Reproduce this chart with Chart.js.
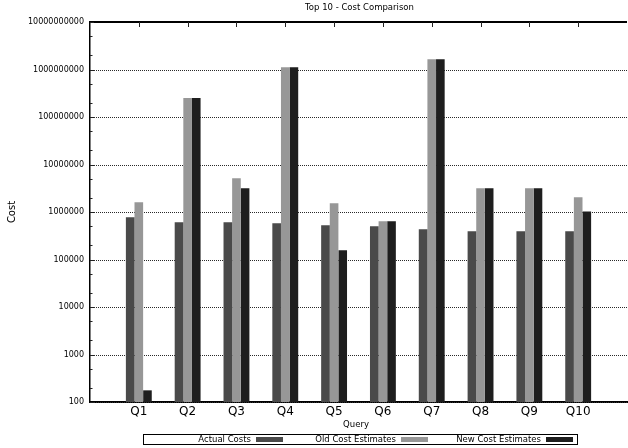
<!DOCTYPE html>
<html>
<head>
<meta charset="utf-8">
<script src="https://cdn.jsdelivr.net/npm/chart.js@4/dist/chart.umd.min.js"></script>
<style>
html,body{margin:0;padding:0;overflow:hidden;background:#fff;}
#wrap{width:630px;height:448px;}
</style>
</head>
<body>
<div id="wrap"><canvas id="c" width="630" height="448"></canvas></div>
<script>
const chartTitle = 'Top 10 - Cost Comparison';
const xTitle = 'Query';
const yTitle = 'Cost';
const categories = ['Q1','Q2','Q3','Q4','Q5','Q6','Q7','Q8','Q9','Q10'];
const actualCosts = [775000, 610000, 610000, 580000, 525000, 500000, 433000, 393000, 393000, 393000];
const oldCostEstimates = [1600000, 250000000, 5150000, 1120000000, 1520000, 640000, 1650000000, 3150000, 3150000, 2040000];
const newCostEstimates = [176, 250000000, 3180000, 1120000000, 157000, 640000, 1650000000, 3150000, 3150000, 1030000];
const seriesNames = ['Actual Costs', 'Old Cost Estimates', 'New Cost Estimates'];
const seriesColors = ['#4a4a4a', '#979797', '#1e1e1e'];
const yTicks = [100, 1000, 10000, 100000, 1000000, 10000000, 100000000, 1000000000, 10000000000];
const yMinorSteps = [2, 5];

const labels = [''].concat(categories, ['']);
const pad = arr => [null].concat(arr, [null]);
const seriesValues = [actualCosts, oldCostEstimates, newCostEstimates];

const FONT = '"DejaVu Sans", sans-serif';

const gridPlugin = {
  id: 'dottedGrid',
  beforeDatasetsDraw(chart) {
    const {ctx, chartArea: a, scales: {y}} = chart;
    ctx.save();
    ctx.strokeStyle = '#2a2a2a';
    ctx.lineWidth = 1;
    ctx.setLineDash([1, 1]);
    yTicks.forEach(v => {
      const py = Math.round(y.getPixelForValue(v)) + 0.5;
      ctx.beginPath();
      ctx.moveTo(a.left, py);
      ctx.lineTo(a.right, py);
      ctx.stroke();
    });
    ctx.restore();
  }
};

const decor = {
  id: 'decor',
  afterDraw(chart) {
    const {ctx, chartArea: a, scales: {x, y}} = chart;
    ctx.save();
    // top border
    ctx.strokeStyle = '#000';
    ctx.lineWidth = 2;
    ctx.beginPath();
    ctx.moveTo(a.left, a.top);
    ctx.lineTo(a.right, a.top);
    ctx.stroke();
    // top category ticks
    ctx.lineWidth = 1;
    ctx.strokeStyle = '#222';
    categories.forEach((c, i) => {
      const px = Math.round(x.getPixelForValue(i + 1)) + 0.5;
      ctx.beginPath();
      ctx.moveTo(px, a.top);
      ctx.lineTo(px, a.top + 5);
      ctx.stroke();
    });
    // y ticks (major & minor) inside the axis
    yTicks.forEach((v, i) => {
      const py = Math.round(y.getPixelForValue(v)) + 0.5;
      ctx.beginPath();
      ctx.moveTo(a.left, py);
      ctx.lineTo(a.left + 4, py);
      ctx.stroke();
      if (i < yTicks.length - 1) {
        yMinorSteps.forEach(m => {
          const pm = Math.round(y.getPixelForValue(v * m)) + 0.5;
          ctx.beginPath();
          ctx.moveTo(a.left, pm);
          ctx.lineTo(a.left + 2.5, pm);
          ctx.stroke();
        });
      }
    });
    // texts
    ctx.fillStyle = '#000';
    ctx.font = '8.5px ' + FONT;
    ctx.textAlign = 'center';
    ctx.textBaseline = 'middle';
    ctx.fillText(chartTitle, (a.left + a.right) / 2 + 1, 8);
    ctx.fillText(xTitle, 356, 425);
    ctx.save();
    ctx.font = '10px ' + FONT;
    ctx.translate(12, (a.top + a.bottom) / 2);
    ctx.rotate(-Math.PI / 2);
    ctx.fillText(yTitle, 0, 0);
    ctx.restore();
    // legend
    ctx.lineWidth = 1;
    ctx.strokeStyle = '#000';
    ctx.strokeRect(143.5, 434.5, 434, 10);
    ctx.textAlign = 'right';
    seriesNames.forEach((n, i) => {
      const off = 145 * i;
      ctx.fillStyle = '#000';
      ctx.fillText(n, 251 + off, 440);
      ctx.fillStyle = seriesColors[i];
      ctx.fillRect(256 + off, 437, 27, 5);
    });
    ctx.restore();
  }
};

new Chart(document.getElementById('c'), {
  type: 'bar',
  data: {
    labels: labels,
    datasets: seriesNames.map((n, i) => ({
      label: n,
      data: pad(seriesValues[i]),
      backgroundColor: seriesColors[i],
      borderWidth: 0,
      categoryPercentage: 0.53,
      barPercentage: 1.0
    }))
  },
  options: {
    responsive: false,
    animation: false,
    layout: {padding: {top: 22, left: 0, right: 0, bottom: 0}},
    plugins: {legend: {display: false}, title: {display: false}, tooltip: {enabled: false}},
    scales: {
      x: {
        type: 'category',
        offset: false,
        grid: {display: false, drawTicks: false},
        border: {display: true, color: '#000', width: 2},
        ticks: {color: '#000', font: {family: FONT, size: 12}, padding: 3, autoSkip: false, maxRotation: 0},
        afterFit(scale) { scale.height = 46; }
      },
      y: {
        type: 'logarithmic',
        min: 100,
        max: 10000000000,
        afterBuildTicks(scale) { scale.ticks = yTicks.map(v => ({value: v})); },
        afterFit(scale) { scale.width = 90; },
        grid: {display: false, drawTicks: false},
        border: {display: true, color: '#000', width: 1.5},
        ticks: {
          color: '#000',
          font: {family: FONT, size: 8},
          padding: 6,
          autoSkip: false,
          callback: v => String(v)
        }
      }
    }
  },
  plugins: [gridPlugin, decor]
});
</script>
</body>
</html>
